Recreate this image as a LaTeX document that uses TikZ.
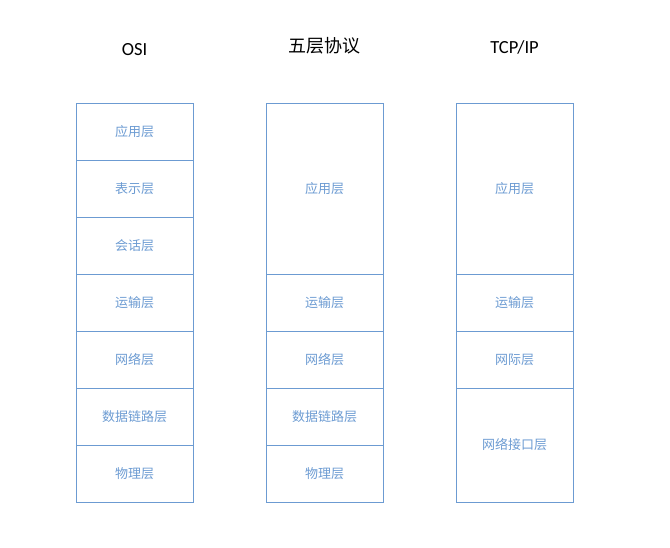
\documentclass[tikz,border=0pt]{standalone}
\usepackage{fontspec}
\setmainfont{Carlito}
\newfontfamily\cjk{Noto Sans CJK SC}
\definecolor{cellblue}{HTML}{6C9BD2}
\begin{document}
\begin{tikzpicture}[x=1pt,y=-1pt,
  cell/.style={draw=cellblue,line width=0.8pt,minimum width=117pt,inner sep=0pt,text=cellblue,font=\cjk\fontsize{13}{15}\selectfont},
  ttl/.style={font=\fontsize{18.5}{22}\selectfont,text=black}]
\useasboundingbox (0,0) rectangle (670,547);
% titles
\node[ttl] (t1) at (134.5,50) {OSI};
\node[ttl,font=\cjk\fontsize{18}{22}\selectfont] (t2) at (324.5,46) {五层协议};
\node[ttl] (t3) at (514.5,47) {TCP/IP};
% OSI
\node[cell,minimum height=57pt] (o1) at (134.5,131.5) {应用层};
\node[cell,minimum height=57pt] (o2) at (134.5,188.5) {表示层};
\node[cell,minimum height=57pt] (o3) at (134.5,245.5) {会话层};
\node[cell,minimum height=57pt] (o4) at (134.5,302.5) {运输层};
\node[cell,minimum height=57pt] (o5) at (134.5,359.5) {网络层};
\node[cell,minimum height=57pt] (o6) at (134.5,416.5) {数据链路层};
\node[cell,minimum height=57pt] (o7) at (134.5,473.5) {物理层};
% five layer
\node[cell,minimum height=171pt] (f1) at (324.5,188.5) {应用层};
\node[cell,minimum height=57pt] (f2) at (324.5,302.5) {运输层};
\node[cell,minimum height=57pt] (f3) at (324.5,359.5) {网络层};
\node[cell,minimum height=57pt] (f4) at (324.5,416.5) {数据链路层};
\node[cell,minimum height=57pt] (f5) at (324.5,473.5) {物理层};
% TCP/IP
\node[cell,minimum height=171pt] (p1) at (514.5,188.5) {应用层};
\node[cell,minimum height=57pt] (p2) at (514.5,302.5) {运输层};
\node[cell,minimum height=57pt] (p3) at (514.5,359.5) {网际层};
\node[cell,minimum height=114pt] (p4) at (514.5,445) {网络接口层};
\end{tikzpicture}
\end{document}
